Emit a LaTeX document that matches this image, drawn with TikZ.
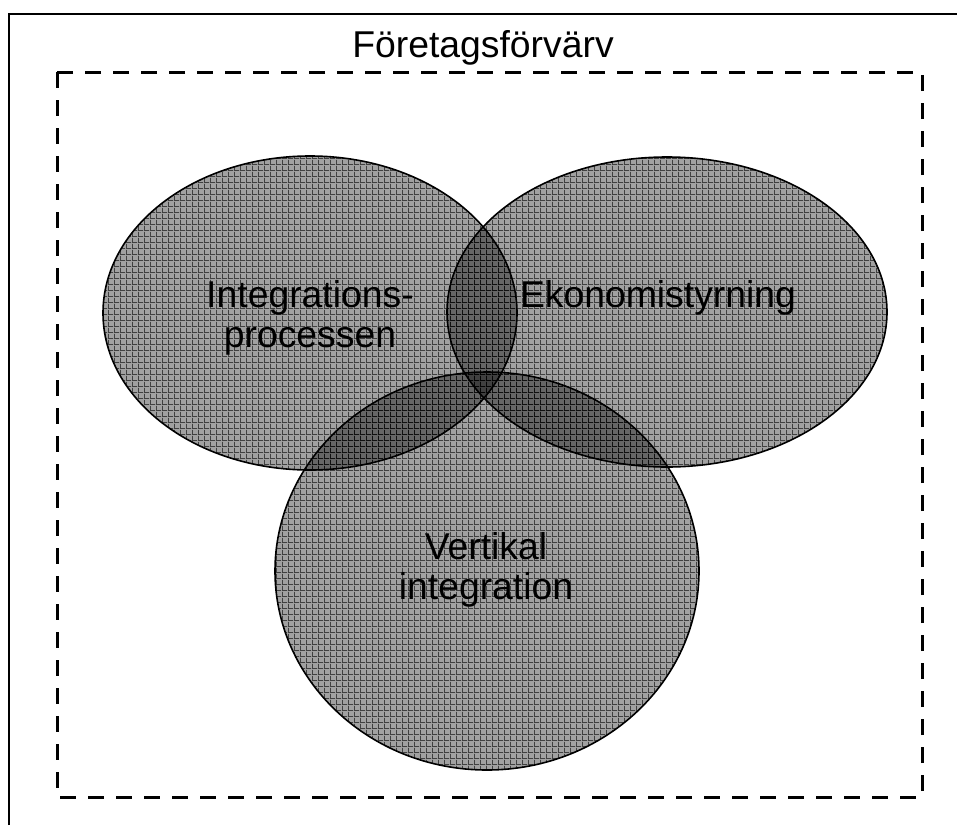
\documentclass[tikz,border=0pt]{standalone}
\usepackage{fontspec}
\setmainfont{Liberation Sans}
\usetikzlibrary{positioning, shapes.geometric, patterns}

% grid fill of the circles
\pgfdeclarepatternformonly{venngrid}{\pgfqpoint{0pt}{0pt}}{\pgfqpoint{4.5pt}{4.5pt}}{\pgfqpoint{4.5pt}{4.5pt}}{%
  \pgfpathrectangle{\pgfqpoint{0pt}{0pt}}{\pgfqpoint{0.7pt}{4.5pt}}%
  \pgfpathrectangle{\pgfqpoint{0pt}{0pt}}{\pgfqpoint{4.5pt}{0.7pt}}%
  \pgfusepath{fill}}

\begin{document}
\begin{tikzpicture}[
    x=0.75pt, y=-0.75pt,
    venn/.style={ellipse, draw=black, line width=1.2pt, fill=black, fill opacity=0.37,
        postaction={pattern=venngrid, pattern color=black, fill opacity=0.6}, inner sep=0pt},
    label/.style={font=\fontsize{28}{30.5}\selectfont, align=center, text=black},
    frame/.style={line width=1.5pt},
    scopebox/.style={line width=2.25pt, dash pattern=on 12pt off 9pt}
]
\useasboundingbox (0,0) rectangle (957,825);

% outer frame and dashed scope
\draw[frame] (9,825) -- (9,14) -- (957,14);
\draw[scopebox] (57,72) rectangle (922,797);
\node[label, anchor=base] (title) at (483,57) {Företagsförvärv};

% the three circles
\node[venn, minimum width=310.5pt, minimum height=235.5pt] (integ) at (310,313) {};
\node[venn, minimum width=330pt, minimum height=232.5pt] (ekon) at (667,312) {};
\node[venn, minimum width=318pt, minimum height=298.5pt] (vert) at (487,571) {};

% texts
\node[label] (integtext) at (310,318) {Integrations-\\processen};
\node[label, anchor=base] (ekontext) at (658,307) {Ekonomistyrning};
\node[label] (verttext) at (486,570) {Vertikal\\integration};

\end{tikzpicture}
\end{document}
